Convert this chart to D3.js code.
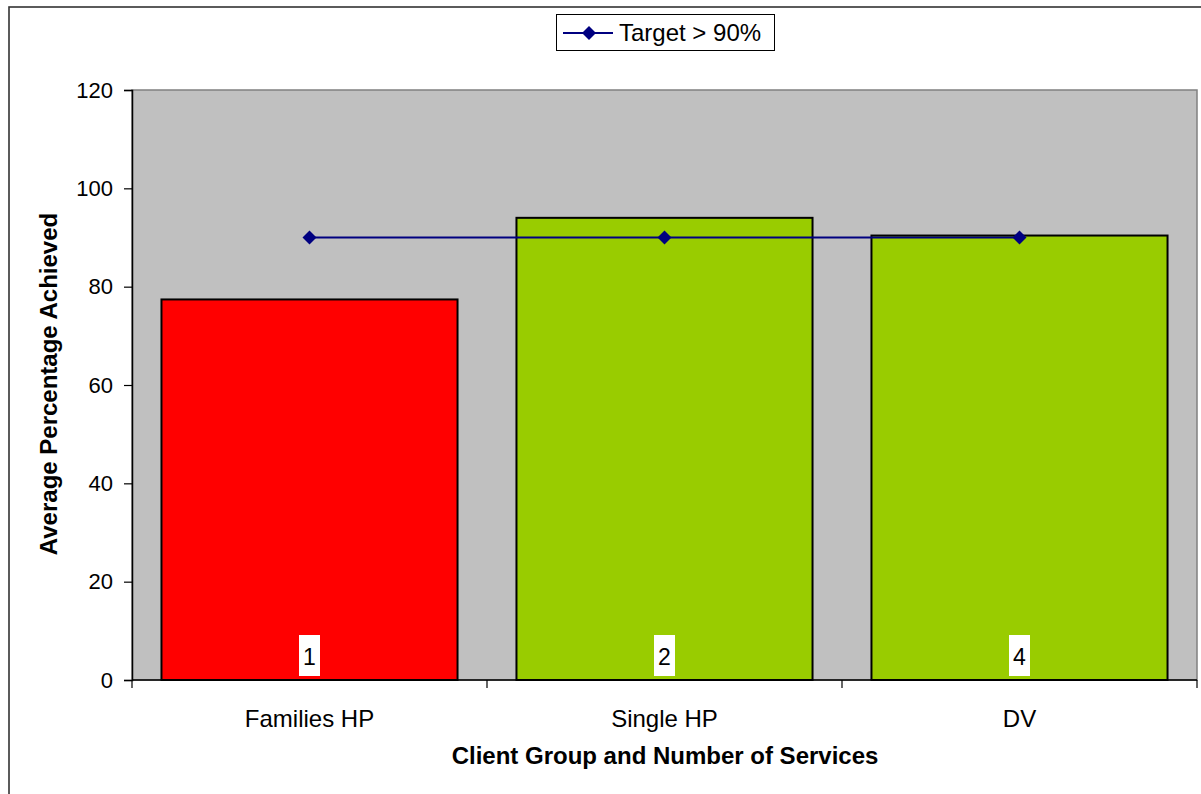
<!DOCTYPE html>
<html>
<head>
<meta charset="utf-8">
<script src="https://cdn.jsdelivr.net/npm/d3@7"></script>
<style>
  html, body { margin: 0; padding: 0; background: #fff; overflow: hidden; }
  svg { display: block; font-family: "Liberation Sans", Arial, sans-serif; }
</style>
</head>
<body>
<svg id="chart" width="1201" height="794"></svg>
<script>
// Client groups and results
const categories = ["Families HP", "Single HP", "DV"];
const achieved = [77.4, 94.0, 90.4];
const serviceCounts = ["1", "2", "4"];
const target = [90, 90, 90];
const yTicks = [0, 20, 40, 60, 80, 100, 120];
const barColors = ["#ff0000", "#99cc00", "#99cc00"];

const svg = d3.select("#chart");
const plot = { left: 132, top: 90, right: 1197, bottom: 680 };

// Outer chart frame (runs past the right and bottom edges)
svg.append("rect")
  .attr("x", 9).attr("y", 7).attr("width", 1400).attr("height", 1000)
  .attr("fill", "#fff").attr("stroke", "#333").attr("stroke-width", 1.6);

const x = d3.scaleBand()
  .domain(categories)
  .range([plot.left, plot.right])
  .paddingInner(0.166)
  .paddingOuter(0.083);

const xOuter = d3.scaleBand().domain(categories).range([plot.left, plot.right]);

const y = d3.scaleLinear().domain([0, 120]).range([plot.bottom, plot.top]);

// Plot background
svg.append("rect")
  .attr("x", plot.left).attr("y", plot.top)
  .attr("width", plot.right - plot.left).attr("height", plot.bottom - plot.top)
  .attr("fill", "#c0c0c0").attr("stroke", "#808080").attr("stroke-width", 1.5);

// Bars
svg.append("g").selectAll("rect")
  .data(categories)
  .join("rect")
  .attr("x", d => x(d))
  .attr("y", (d, i) => y(achieved[i]))
  .attr("width", x.bandwidth())
  .attr("height", (d, i) => y(0) - y(achieved[i]))
  .attr("fill", (d, i) => barColors[i])
  .attr("stroke", "#000").attr("stroke-width", 2);

// Service count labels in white boxes
const lab = svg.append("g").selectAll("g")
  .data(categories)
  .join("g")
  .attr("transform", d => `translate(${x(d) + x.bandwidth() / 2},0)`);
lab.append("rect")
  .attr("x", -10.5).attr("y", 635).attr("width", 21).attr("height", 41)
  .attr("fill", "#fff");
lab.append("text")
  .attr("y", 665).attr("text-anchor", "middle")
  .attr("font-size", 23).attr("fill", "#000")
  .text((d, i) => serviceCounts[i]);

// Target line with diamond markers
const cx = d => x(d) + x.bandwidth() / 2;
svg.append("path")
  .datum(categories)
  .attr("d", d3.line().x(d => cx(d)).y((d, i) => y(target[i])))
  .attr("fill", "none").attr("stroke", "#000080").attr("stroke-width", 2);
svg.append("g").selectAll("path")
  .data(categories)
  .join("path")
  .attr("transform", (d, i) => `translate(${cx(d)},${y(target[i])})`)
  .attr("d", "M0,-7L7,0L0,7L-7,0Z")
  .attr("fill", "#000080");

// Y axis
const yAxis = svg.append("g")
  .attr("transform", `translate(${plot.left},0)`)
  .call(d3.axisLeft(y).tickValues(yTicks).tickSize(8).tickPadding(11));
yAxis.select(".domain").attr("stroke", "#000").attr("stroke-width", 1.5);
yAxis.selectAll(".tick line").attr("stroke", "#000").attr("stroke-width", 1.2);
yAxis.selectAll("text").attr("font-size", 22).attr("fill", "#000")
  .attr("font-family", "Liberation Sans, Arial, sans-serif");

// X axis: ticks between categories
const xAxisG = svg.append("g").attr("transform", `translate(0,${plot.bottom})`);
xAxisG.append("line")
  .attr("x1", plot.left).attr("x2", plot.right)
  .attr("stroke", "#000").attr("stroke-width", 1.5);
const boundaries = categories.map(d => xOuter(d)).concat([plot.right]);
xAxisG.selectAll("line.tk")
  .data(boundaries)
  .join("line")
  .attr("class", "tk")
  .attr("x1", d => d).attr("x2", d => d)
  .attr("y1", 0).attr("y2", 8)
  .attr("stroke", "#000").attr("stroke-width", 1.2);
xAxisG.selectAll("text")
  .data(categories)
  .join("text")
  .attr("x", d => xOuter(d) + xOuter.bandwidth() / 2)
  .attr("y", 47)
  .attr("text-anchor", "middle")
  .attr("font-size", 24).attr("fill", "#000")
  .text(d => d);

// Axis titles
svg.append("text")
  .attr("x", 665).attr("y", 764)
  .attr("text-anchor", "middle")
  .attr("font-size", 24).attr("font-weight", "bold")
  .text("Client Group and Number of Services");
svg.append("text")
  .attr("transform", "translate(57,384) rotate(-90)")
  .attr("text-anchor", "middle")
  .attr("font-size", 24).attr("font-weight", "bold")
  .text("Average Percentage Achieved");

// Legend
const legend = svg.append("g");
legend.append("rect")
  .attr("x", 556.5).attr("y", 14.5).attr("width", 218).attr("height", 36)
  .attr("fill", "#fff").attr("stroke", "#000").attr("stroke-width", 1);
legend.append("line")
  .attr("x1", 563).attr("x2", 613).attr("y1", 33).attr("y2", 33)
  .attr("stroke", "#000080").attr("stroke-width", 2);
legend.append("path")
  .attr("transform", "translate(589,33)")
  .attr("d", "M0,-7L7,0L0,7L-7,0Z")
  .attr("fill", "#000080");
legend.append("text")
  .attr("x", 619).attr("y", 41)
  .attr("font-size", 24).attr("fill", "#000")
  .text("Target > 90%");
</script>
</body>
</html>
